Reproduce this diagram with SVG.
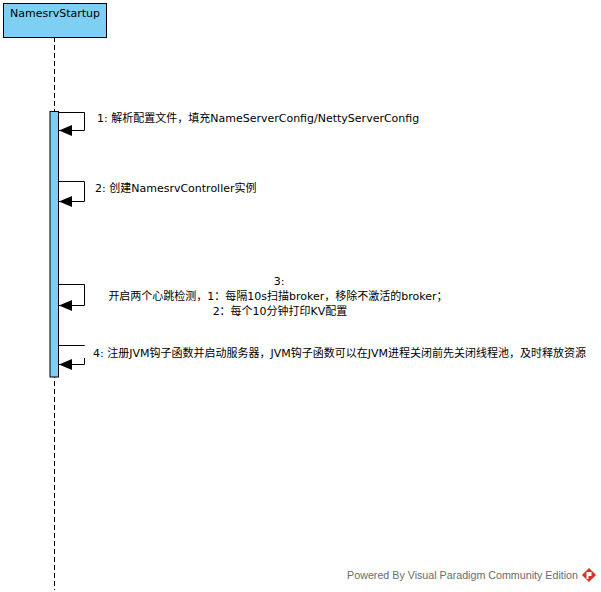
<svg xmlns="http://www.w3.org/2000/svg" width="601" height="592" viewBox="0 0 601 592">
<style>
text { font-family: "DejaVu Sans", "Noto Sans CJK SC", sans-serif; font-size: 11px; fill: #000; }
.msg { fill: none; stroke: #000; stroke-width: 1; }
.wm { font-family: "Liberation Sans", sans-serif; fill: #6b6b6b; font-size: 10.7px; }
</style>
<defs>
<marker id="arr" viewBox="0 0 13 11" refX="13" refY="5.5" markerWidth="13" markerHeight="11" markerUnits="userSpaceOnUse" orient="auto">
<path d="M0,0 L13,5.5 L0,11 z" fill="#000"/>
</marker>
</defs>
<rect width="601" height="592" fill="#fff"/>
<g id="NamesrvStartup">
<line x1="54.5" y1="37" x2="54.5" y2="590" stroke="#000" stroke-dasharray="5,3"/>
<rect x="3.5" y="3.5" width="103" height="34" fill="#7ecff4" stroke="#000"/>
<text x="55" y="17" text-anchor="middle">NamesrvStartup</text>
<rect id="activation" x="50" y="111.5" width="8.5" height="265.5" fill="#7ecff4" stroke="#000"/>
</g>
<g id="connectors">
<polyline class="msg" points="58.5,112.5 84.5,112.5 84.5,130.5 59,130.5" marker-end="url(#arr)"/>
<polyline class="msg" points="58.5,181.5 84.5,181.5 84.5,201.5 59,201.5" marker-end="url(#arr)"/>
<polyline class="msg" points="58.5,284.5 84.5,284.5 84.5,305.5 59,305.5" marker-end="url(#arr)"/>
<polyline class="msg" points="58.5,345.5 84.5,345.5 84.5,364.5 59,364.5" marker-end="url(#arr)"/>
</g>
<g id="labels">
<rect x="88" y="180" width="178" height="16" fill="#fff"/>
<rect x="84" y="346" width="504" height="12" fill="#fff"/>
<text x="97" y="122">1: 解析配置文件，填充NameServerConfig/NettyServerConfig</text>
<text x="95" y="192">2: 创建NamesrvController实例</text>
<text x="279" y="285" text-anchor="middle">3:</text>
<text x="278" y="300" text-anchor="middle">开启两个心跳检测，1：每隔10s扫描broker，移除不激活的broker；</text>
<text x="280" y="315" text-anchor="middle">2：每个10分钟打印KV配置</text>
<text x="93" y="357">4: 注册JVM钩子函数并启动服务器，JVM钩子函数可以在JVM进程关闭前先关闭线程池，及时释放资源</text>
</g>
<g id="watermark">
<text class="wm" x="578" y="579" text-anchor="end">Powered By Visual Paradigm Community Edition</text>
<rect x="584" y="570" width="10" height="10" fill="#d8322a" transform="rotate(45 589 575)"/>
<path d="M586.5,572 h5 v4 h-3 v3 h-2 z" fill="#fff"/>
</g>
</svg>
